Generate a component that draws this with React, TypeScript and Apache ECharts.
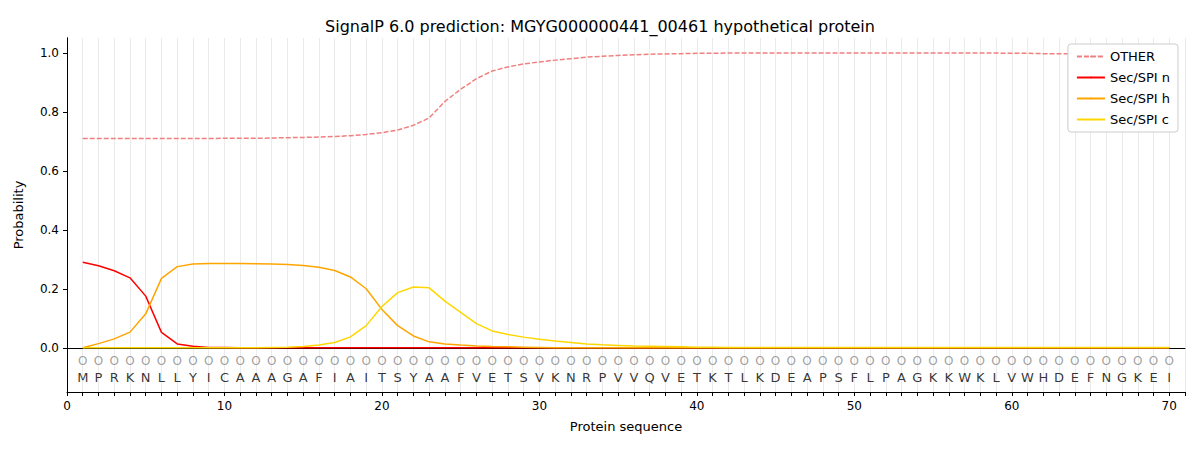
import React, { useEffect, useRef } from "react";
import * as echarts from "echarts";

const SEQUENCE = "MPRKNLLYICAAAGAFIAITSYAAFVETSVKNRPVVQVETKTLKDEAPSFLPAGKKWKLVWHDEFNGKEI".split("");

const OTHER = [
  0.709, 0.709, 0.709, 0.709, 0.709, 0.709, 0.709, 0.709, 0.709, 0.71,
  0.71, 0.71, 0.711, 0.712, 0.713, 0.714, 0.716, 0.719, 0.723, 0.729,
  0.738, 0.754, 0.779, 0.835, 0.876, 0.912, 0.938, 0.952, 0.962, 0.969,
  0.975, 0.98, 0.985, 0.988, 0.991, 0.993, 0.995, 0.996, 0.997, 0.998,
  0.998, 0.999, 0.999, 0.999, 0.999, 0.999, 0.999, 0.999, 0.999, 0.999,
  0.999, 0.999, 0.999, 0.999, 0.999, 0.999, 0.999, 0.999, 0.999, 0.998,
  0.998, 0.997, 0.997, 0.996, 0.996, 0.996, 0.995, 0.995, 0.995, 0.995,
];
const SEC_N = [
  0.29, 0.278, 0.261, 0.237, 0.175, 0.052, 0.013, 0.005, 0.001, 0.0005,
  ...new Array(60).fill(0),
];
const SEC_H = [
  0.0, 0.014, 0.03, 0.053, 0.115, 0.235, 0.275, 0.284, 0.286, 0.286,
  0.286, 0.285, 0.284, 0.282, 0.279, 0.273, 0.262, 0.24, 0.2, 0.13,
  0.075, 0.04, 0.02, 0.013, 0.009, 0.006, 0.004, 0.003, 0.002, 0.001,
  ...new Array(40).fill(0),
];
const SEC_C = [
  0, 0, 0, 0, 0, 0, 0, 0, 0, 0,
  0, 0, 0.001, 0.002, 0.004, 0.009, 0.018, 0.037, 0.075, 0.14,
  0.187, 0.206, 0.203, 0.158, 0.12, 0.082, 0.057, 0.045, 0.036, 0.029,
  0.023, 0.018, 0.013, 0.01, 0.008, 0.006, 0.005, 0.004, 0.003, 0.002,
  0.002, 0.001, 0.001, 0.001, 0.001, 0.001, 0.001, 0.001, 0.001, 0.001,
  0.001, 0.001, 0.001, 0.001, 0.001, 0.001, 0.001, 0.001, 0.001, 0.001,
  0.001, 0.001, 0.001, 0.001, 0.001, 0.001, 0.001, 0.001, 0.001, 0.001,
];

const pts = (arr: number[]) => arr.map((v, i) => [i + 1, v]);
const FONT = "DejaVu Sans";

export default function App() {
  const ref = useRef<HTMLDivElement>(null);

  useEffect(() => {
    if (!ref.current) return;
    const chart = echarts.init(ref.current, undefined, { renderer: "svg" });
    const line = (name: string, data: number[], color: string, dashed = false) => ({
      name,
      type: "line",
      data: pts(data),
      symbol: "none",
      lineStyle: { color, width: 1.5, type: dashed ? [5, 2] : "solid" },
      itemStyle: { color },
      z: 3,
    });
    const frame = { show: true, lineStyle: { color: "#000" } };
    chart.setOption({
      animation: false,
      textStyle: { fontFamily: FONT },
      title: {
        text: "SignalP 6.0 prediction: MGYG000000441_00461 hypothetical protein",
        left: "center",
        top: 5,
        textStyle: { fontSize: 16, fontWeight: "normal", color: "#000", fontFamily: FONT },
      },
      grid: { left: 59, right: 7, top: 30, bottom: 50, outerBoundsMode: "none", containLabel: false },
      legend: {
        orient: "vertical",
        right: 14,
        top: 36,
        itemWidth: 28,
        itemHeight: 2,
        itemGap: 8,
        backgroundColor: "#fff",
        borderColor: "#ccc",
        borderWidth: 1,
        borderRadius: 3,
        padding: [6, 8],
        textStyle: { fontSize: 13, color: "#000", fontFamily: FONT },
        data: ["OTHER", "Sec/SPI n", "Sec/SPI h", "Sec/SPI c"],
      },
      xAxis: [
        {
          type: "value",
          min: 0,
          max: 71,
          interval: 1,
          name: "Protein sequence",
          nameLocation: "middle",
          nameGap: 28,
          nameTextStyle: { fontSize: 13, color: "#000" },
          axisLine: { onZero: false, lineStyle: { color: "#000" } },
          axisTick: { show: true, length: 4, lineStyle: { color: "#000" }, interval: (i: number, v: any) => Number(v) % 10 === 0 } as any,
          axisLabel: {
            color: "#000",
            fontSize: 12,
            formatter: (v: number) => (v % 10 === 0 ? String(v) : ""),
          },
          splitLine: { show: true, lineStyle: { color: "#ebebeb", width: 1 } },
        },
        {
          type: "value", position: "top", min: 0, max: 71,
          axisLine: frame, axisTick: { show: false }, axisLabel: { show: false }, splitLine: { show: false },
        },
      ],
      yAxis: [
        {
          type: "value",
          min: -0.15,
          max: 1.05,
          name: "Probability",
          nameLocation: "middle",
          nameGap: 42,
          nameTextStyle: { fontSize: 13, color: "#000" },
          axisLine: { show: true, onZero: false, lineStyle: { color: "#000" } },
          axisTick: { show: true, length: 4, lineStyle: { color: "#000" }, customValues: [0, 0.2, 0.4, 0.6, 0.8, 1.0] },
          axisLabel: {
            color: "#000",
            fontSize: 12,
            customValues: [0, 0.2, 0.4, 0.6, 0.8, 1.0],
            formatter: (v: number) => v.toFixed(1),
          },
          splitLine: { show: false },
        },
        {
          type: "value", position: "right", min: -0.15, max: 1.05,
          axisLine: frame, axisTick: { show: false }, axisLabel: { show: false }, splitLine: { show: false },
        },
      ] as any,
      series: [
        line("OTHER", OTHER, "#f08080", true),
        line("Sec/SPI n", SEC_N, "#ff0000"),
        line("Sec/SPI h", SEC_H, "#ffa500"),
        line("Sec/SPI c", SEC_C, "#ffd700"),
        {
          type: "scatter",
          data: SEQUENCE.map((_, i) => [i + 1, -0.045]),
          symbolSize: 0,
          silent: true,
          label: { show: true, position: "inside", formatter: "O", fontSize: 12, color: "#888" },
        },
        {
          type: "scatter",
          data: SEQUENCE.map((_, i) => [i + 1, -0.1]),
          symbolSize: 0,
          silent: true,
          label: {
            show: true,
            position: "inside",
            formatter: (p: any) => SEQUENCE[p.dataIndex],
            fontSize: 13,
            color: "#000",
          },
        },
      ],
    });
    return () => chart.dispose();
  }, []);

  return <div ref={ref} style={{ width: 1184, height: 434 }} />;
}
